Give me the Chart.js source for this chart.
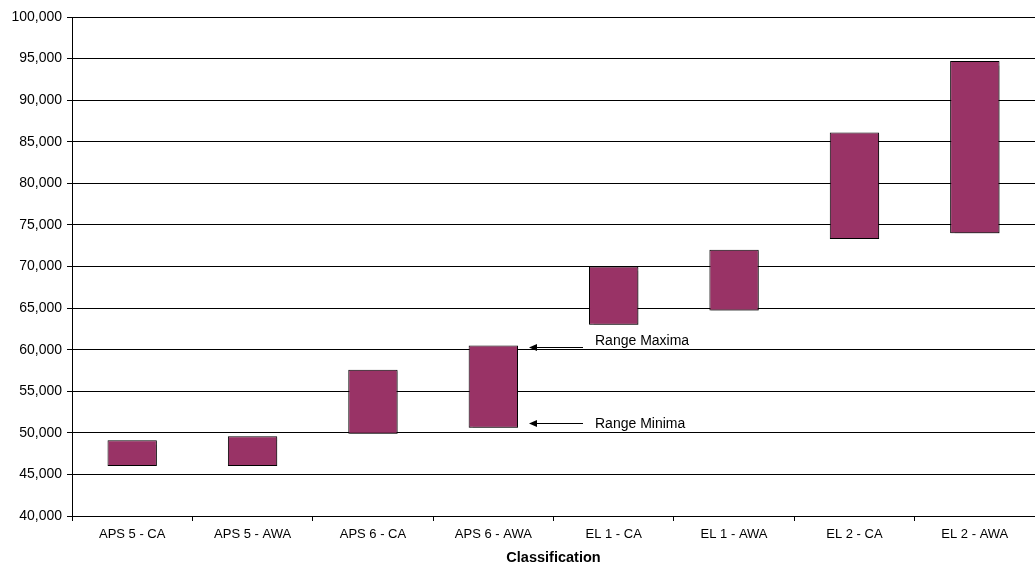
<!DOCTYPE html>
<html>
<head>
<meta charset="utf-8">
<script src="https://cdn.jsdelivr.net/npm/chart.js@4"></script>
<style>
  html, body { margin: 0; padding: 0; background: #fff; }
  #wrap { width: 1035px; height: 570px; position: relative; }
</style>
</head>
<body>
<div id="wrap"><canvas id="c" width="1035" height="570"></canvas></div>
<script>
// Salary ranges per classification
const categories = ['APS 5 - CA', 'APS 5 - AWA', 'APS 6 - CA', 'APS 6 - AWA', 'EL 1 - CA', 'EL 1 - AWA', 'EL 2 - CA', 'EL 2 - AWA'];
const rangeMin = [46000, 46000, 49900, 50600, 63000, 64700, 73300, 74000];
const rangeMax = [49100, 49600, 57600, 60500, 70000, 72000, 86100, 94700];
const yTicks = [40000, 45000, 50000, 55000, 60000, 65000, 70000, 75000, 80000, 85000, 90000, 95000, 100000];
const annotationIndex = 3;
const annotationLabels = ['Range Maxima', 'Range Minima'];

const FONT = '"Liberation Sans", Arial, sans-serif';

// Arrows with labels pointing at the ends of one bar
const rangeNotes = {
  id: 'rangeNotes',
  afterDatasetsDraw(chart) {
    const bar = chart.getDatasetMeta(0).data[annotationIndex];
    if (!bar) return;
    const ctx = chart.ctx;
    const right = bar.x + bar.width / 2;
    const top = Math.min(bar.y, bar.base);
    const bottom = Math.max(bar.y, bar.base);
    const notes = [
      { text: annotationLabels[0], arrowY: top + 1.5, textDy: -6.5 },
      { text: annotationLabels[1], arrowY: bottom - 5, textDy: 0.5 }
    ];
    ctx.save();
    ctx.strokeStyle = '#000';
    ctx.fillStyle = '#000';
    ctx.lineWidth = 1;
    ctx.font = '14px ' + FONT;
    ctx.textBaseline = 'middle';
    ctx.textAlign = 'left';
    notes.forEach(n => {
      const tip = right + 11, tail = right + 65;
      const y = Math.round(n.arrowY) + 0.5;
      ctx.beginPath();
      ctx.moveTo(tail, y);
      ctx.lineTo(tip + 5, y);
      ctx.stroke();
      ctx.beginPath();
      ctx.moveTo(tip, y);
      ctx.lineTo(tip + 8, y - 3.5);
      ctx.lineTo(tip + 8, y + 3.5);
      ctx.closePath();
      ctx.fill();
      ctx.fillText(n.text, right + 77, y + n.textDy);
    });
    ctx.restore();
  }
};

// Soft drop shadow under the bars
const barShadow = {
  id: 'barShadow',
  beforeDatasetsDraw(chart) {
    const ctx = chart.ctx;
    ctx.save();
    ctx.shadowColor = 'rgba(0,0,0,0.3)';
    ctx.shadowOffsetX = 1.5;
    ctx.shadowOffsetY = 1.5;
    ctx.shadowBlur = 1;
  },
  afterDatasetsDraw(chart) {
    chart.ctx.restore();
  }
};

new Chart(document.getElementById('c'), {
  type: 'bar',
  data: {
    labels: categories,
    datasets: [{
      data: categories.map((_, i) => [rangeMin[i], rangeMax[i]]),
      backgroundColor: '#993366',
      borderColor: '#000',
      borderWidth: 1,
      borderSkipped: false,
      barPercentage: 0.41,
      categoryPercentage: 1
    }]
  },
  options: {
    responsive: false,
    animation: false,
    devicePixelRatio: 1,
    layout: { padding: { top: 17, right: 0, left: 0, bottom: 0 } },
    plugins: { legend: { display: false }, tooltip: { enabled: false } },
    scales: {
      x: {
        offset: true,
        afterFit(scale) { scale.height = 54; },
        grid: { offset: true, drawOnChartArea: false, drawTicks: true, tickLength: 5, color: '#000' },
        border: { display: true, color: '#000', width: 1 },
        ticks: { color: '#000', font: { family: FONT, size: 13 }, padding: 6, maxRotation: 0 },
        title: { display: true, text: 'Classification', color: '#000', font: { family: FONT, size: 14.5, weight: 'bold' }, padding: { top: 4, bottom: 3 } }
      },
      y: {
        min: 40000,
        max: 100000,
        afterBuildTicks(scale) { scale.ticks = yTicks.map(v => ({ value: v })); },
        afterFit(scale) { scale.width = 72; },
        grid: { color: '#000', lineWidth: 1, drawTicks: true, tickLength: 5 },
        border: { display: true, color: '#000', width: 1 },
        ticks: {
          color: '#000',
          font: { family: FONT, size: 14 },
          padding: 5,
          callback: v => v.toLocaleString('en-US')
        }
      }
    }
  },
  plugins: [barShadow, rangeNotes]
});
</script>
</body>
</html>
